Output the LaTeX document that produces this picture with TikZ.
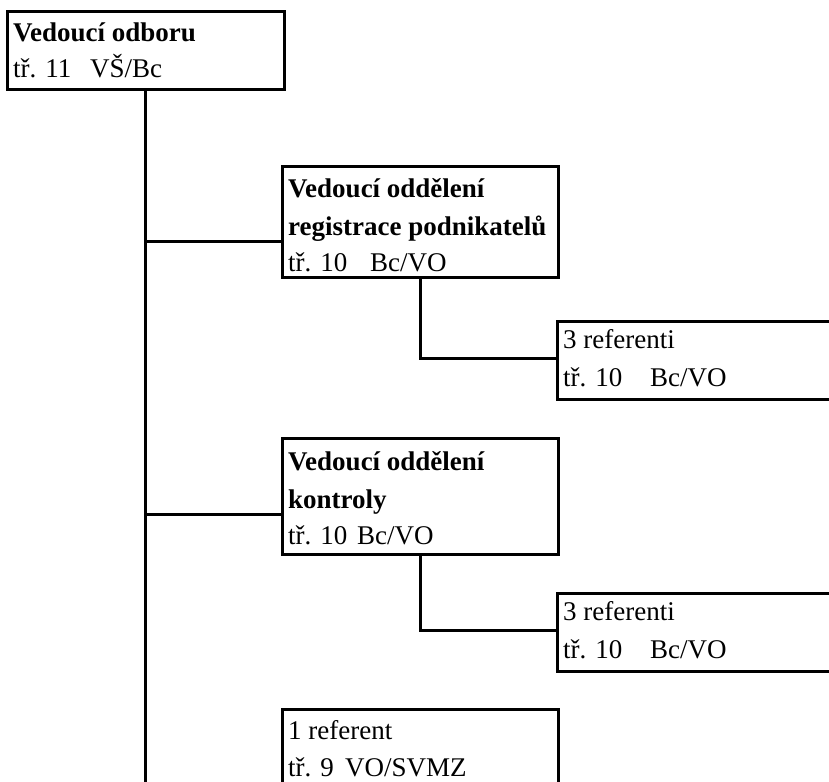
\documentclass[tikz,border=0pt]{standalone}
\usepackage{fontspec}
\setmainfont{Liberation Serif}
\tikzset{
  box/.style={draw=black, line width=3pt, anchor=north west, inner sep=0pt, minimum width=#1},
  conn/.style={draw=black, line width=3pt},
  bt/.style={anchor=base west, inner sep=0pt, font=\fontsize{27}{30}\selectfont\bfseries},
  rt/.style={anchor=base west, inner sep=0pt, font=\fontsize{27}{30}\selectfont},
}
\begin{document}
\begin{tikzpicture}[x=1pt,y=-1pt]
\useasboundingbox (0,0) rectangle (829,781);
\clip (0,0) rectangle (829,781);
% boxes
\node[box=277pt, minimum height=78pt] (b1) at (6,10) {};
\node[box=276pt, minimum height=111pt] (b2) at (281,165) {};
\node[box=300pt, minimum height=78pt] (b3) at (556,320) {};
\node[box=276pt, minimum height=116pt] (b4) at (281,437) {};
\node[box=300pt, minimum height=78pt] (b6) at (556,592) {};
\node[box=276pt, minimum height=100pt] (b5) at (281,708) {};
% texts
\node[bt] (t1a) at (13,42) {Vedoucí odboru};
\node[rt] (t1b) at (13,78) {tř. 11};
\node[rt] (t1c) at (90,78) {VŠ/Bc};
\node[bt] (t2a) at (288,197) {Vedoucí oddělení};
\node[bt] (t2b) at (288,235) {registrace podnikatelů};
\node[rt] (t2c) at (288,271) {tř. 10};
\node[rt] (t2d) at (370,271) {Bc/VO};
\node[rt] (t3a) at (563,348) {3 referenti};
\node[rt] (t3b) at (563,386) {tř. 10};
\node[rt] (t3c) at (650,386) {Bc/VO};
\node[bt] (t4a) at (288,470) {Vedoucí oddělení};
\node[bt] (t4b) at (288,508) {kontroly};
\node[rt] (t4c) at (288,544) {tř. 10};
\node[rt] (t4d) at (357,544) {Bc/VO};
\node[rt] (t6a) at (563,620) {3 referenti};
\node[rt] (t6b) at (563,658) {tř. 10};
\node[rt] (t6c) at (650,658) {Bc/VO};
\node[rt] (t5a) at (288,739) {1 referent};
\node[rt] (t5b) at (288,776) {tř. 9};
\node[rt] (t5c) at (345,776) {VO/SVMZ};
% connector coordinates
\coordinate (trunk) at (145,0);
\coordinate (end) at (145,790);
\coordinate (in2) at (b2.west |- 0,241);
\coordinate (in4) at (b4.west |- 0,514);
\coordinate (d2) at (420,0);
\coordinate (in3) at (b3.west |- 0,358);
\coordinate (in6) at (b6.west |- 0,630);
% connectors
\draw[conn] (trunk |- b1.south) -- (end);
\draw[conn] (trunk |- in2) -- (in2);
\draw[conn] (trunk |- in4) -- (in4);
\draw[conn] (d2 |- b2.south) -- (d2 |- in3) -- (in3);
\draw[conn] (d2 |- b4.south) -- (d2 |- in6) -- (in6);
\end{tikzpicture}
\end{document}
